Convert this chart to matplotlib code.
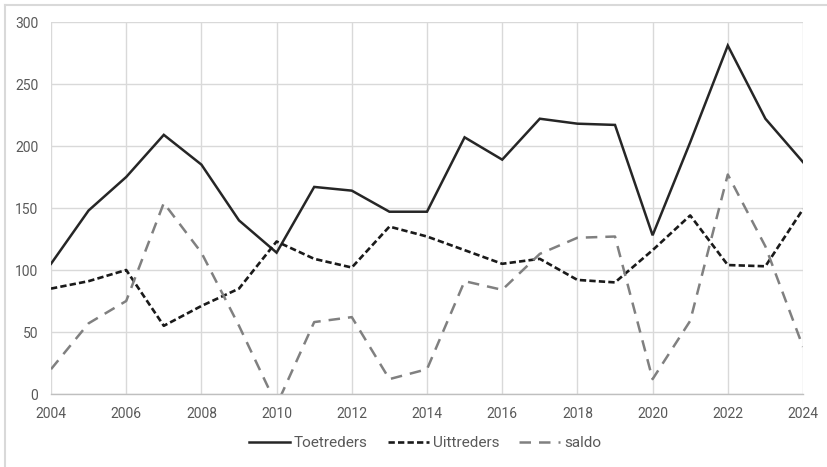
import matplotlib
matplotlib.use("Agg")
import matplotlib.pyplot as plt
from matplotlib.lines import Line2D

plt.rcParams["font.family"] = ["Roboto", "DejaVu Sans"]

years = list(range(2004, 2025))
toetreders = [105, 148, 175, 209, 185, 140, 114, 167, 164, 147, 147,
              207, 189, 222, 218, 217, 128, 203, 281, 222, 187]
uittreders = [85, 91, 100, 55, 71, 85, 123, 109, 102, 135, 127,
              116, 105, 109, 92, 90, 116, 144, 104, 103, 149]
saldo = [20, 57, 75, 154, 114, 55, -9, 58, 62, 12, 20,
         91, 84, 113, 126, 127, 12, 59, 177, 119, 38]

W, H = 828, 467
fig = plt.figure(figsize=(W / 100, H / 100), dpi=100)
ax = fig.add_axes([51 / W, 1 - 394 / H, (803 - 51) / W, (394 - 22) / H])

text_col = "#595959"
grid_col = "#d9d9d9"

ax.plot(years, toetreders, color="#262626", lw=1.8, label="Toetreders",
        solid_joinstyle="miter")
ax.plot(years, uittreders, color="#1a1a1a", lw=1.9, label="Uittreders",
        linestyle=(0, (2.4, 1.2)))
ax.plot(years, saldo, color="#808080", lw=1.8, label="saldo",
        linestyle=(0, (4.6, 3.2)))

ax.set_xlim(2004, 2024)
ax.set_ylim(0, 300)
ax.set_xticks(range(2004, 2025, 2))
ax.set_yticks(range(0, 301, 50))
ax.grid(True, color=grid_col, lw=1.0)
ax.set_axisbelow(True)
for side in ["top", "right", "left"]:
    ax.spines[side].set_visible(False)
ax.spines["bottom"].set_color("#bfbfbf")
ax.spines["bottom"].set_linewidth(1.0)
ax.tick_params(length=0, labelsize=10, colors=text_col)
ax.tick_params(axis="x", pad=9)
ax.tick_params(axis="y", pad=9)

fig.legend(loc="center", bbox_to_anchor=(425 / W, 1 - 443 / H), ncol=3,
           frameon=False, fontsize=11, labelcolor=text_col,
           handlelength=2.7, handletextpad=0.25, columnspacing=1.3)

# chart frame (top and left edges)
fig.add_artist(Line2D([5 / W, 1], [1 - 5 / H, 1 - 5 / H], color="#d9d9d9", lw=1.5,
                      transform=fig.transFigure))
fig.add_artist(Line2D([5 / W, 5 / W], [0, 1 - 5 / H], color="#d9d9d9", lw=1.5,
                      transform=fig.transFigure))

fig.savefig("out.png", dpi=100)
